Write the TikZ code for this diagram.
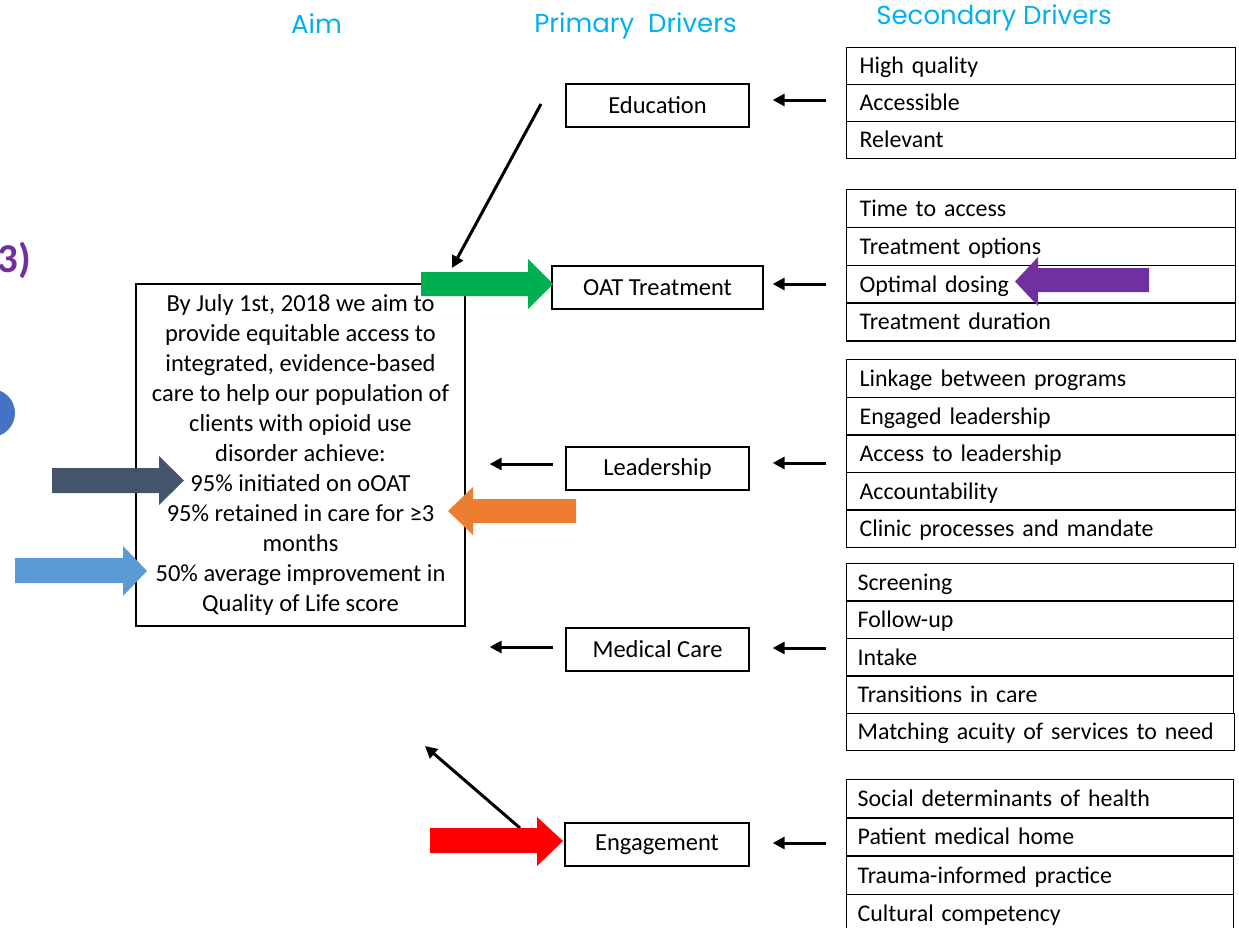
\documentclass[tikz,border=0pt]{standalone}
\usepackage{fontspec}
\setmainfont{Carlito}
\newfontfamily\headfont{Poppins}
\usetikzlibrary{arrows.meta}
\definecolor{hdr}{RGB}{0,176,240}
\definecolor{cgreen}{RGB}{0,176,80}
\definecolor{cslate}{RGB}{68,84,106}
\definecolor{clblue}{RGB}{91,155,213}
\definecolor{corange}{RGB}{237,125,49}
\definecolor{cred}{RGB}{255,0,0}
\definecolor{cpurple}{RGB}{112,48,160}
\definecolor{cblue}{RGB}{68,114,196}
\begin{document}
\begin{tikzpicture}[x=1pt,y=-1pt,
  box/.style={draw, line width=1.3pt, inner sep=0pt, font=\fontsize{24.5}{30}\selectfont},
  prim/.style={box, minimum width=183pt, minimum height=43pt},
  row/.style={box, font=\fontsize{23.9}{30}\selectfont, anchor=north west, minimum height=37.6pt, text width=363pt, inner xsep=13pt, align=left, text height=19pt, text depth=3pt},
  hd/.style={font=\headfont\fontsize{26}{30}\selectfont, text=hdr, inner sep=0pt},
  darr/.style={line width=3pt, -{Triangle[length=12pt,width=12pt]}}
]
\useasboundingbox (0,0) rectangle (1239,927);

% headers
\node[hd] (haim) at (316.5,24) {Aim};
\node[hd] (hprim) at (635.5,26) {Primary\ \ Drivers};
\node[hd] (hsec) at (994,18) {Secondary Drivers};

% partial items at the left edge
\node[font=\bfseries\fontsize{41}{44}\selectfont, text=cpurple, anchor=east, inner sep=0pt] (cut) at (31,260) {3)};
\fill[cblue] (-9,413) circle (24);

% aim box
\node[box, minimum width=329pt, minimum height=342pt, align=center] (aim) at (300.5,455)
 {By July 1st, 2018 we aim to\\provide equitable access to\\integrated, evidence-based\\care to help our population of\\clients with opioid use\\disorder achieve:\\95\% initiated on oOAT\\95\% retained in care for ≥3\\months\\50\% average improvement in\\Quality of Life score};

% primary drivers
\node[prim] (edu) at (657.5,105.5) {Education};
\node[prim, minimum width=211pt] (oat) at (657.5,287.5) {OAT Treatment};
\node[prim] (lead) at (657.5,468.5) {Leadership};
\node[prim] (med) at (657.5,649.5) {Medical Care};
\node[prim, minimum width=184pt] (eng) at (657,844.5) {Engagement};

% secondary drivers
\node[row, minimum height=37pt] (a1) at (846,46.5) {High quality};
\node[row, minimum height=37pt] (a2) at (846,83.5) {Accessible};
\node[row, minimum height=37pt] (a3) at (846,120.5) {Relevant};

\node[row, minimum height=37.8pt] (b1) at (846,189) {Time to access};
\node[row, minimum height=37.8pt] (b2) at (846,226.8) {Treatment options};
\node[row, minimum height=37.8pt] (b3) at (846,264.6) {Optimal dosing};
\node[row, minimum height=37.8pt] (b4) at (846,302.4) {Treatment duration};

\node[row] (c1) at (846,359) {Linkage between programs};
\node[row] (c2) at (846,396.6) {Engaged leadership};
\node[row] (c3) at (846,434.2) {Access to leadership};
\node[row] (c4) at (846,471.8) {Accountability};
\node[row] (c5) at (846,509.4) {Clinic processes and mandate};

\node[row, minimum height=37.4pt, inner xsep=11pt, text width=365pt] (d1) at (846,563) {Screening};
\node[row, minimum height=37.4pt, inner xsep=11pt, text width=365pt] (d2) at (846,600.4) {Follow-up};
\node[row, minimum height=37.4pt, inner xsep=11pt, text width=365pt] (d3) at (846,637.8) {Intake};
\node[row, minimum height=37.4pt, inner xsep=11pt, text width=365pt] (d4) at (846,675.2) {Transitions in care};
\node[row, minimum height=37.4pt, inner xsep=11pt, text width=366pt] (d5) at (846,712.6) {Matching acuity of services to need};

\node[row, minimum height=38.2pt, inner xsep=11pt, text width=365pt] (e1) at (846,779) {Social determinants of health};
\node[row, minimum height=38.2pt, inner xsep=11pt, text width=365pt] (e2) at (846,817.2) {Patient medical home};
\node[row, minimum height=38.2pt, inner xsep=11pt, text width=365pt] (e3) at (846,855.4) {Trauma-informed practice};
\node[row, minimum height=38.2pt, inner xsep=11pt, text width=365pt] (e4) at (846,893.6) {Cultural competency};

% secondary -> primary arrows
\coordinate (sa) at (826,100);
\coordinate (sb) at (826,284);
\coordinate (sc) at (826,463);
\coordinate (sd) at (826,648);
\coordinate (se) at (826,843);
\draw[darr, shorten >=23pt] (sa) -- (sa -| edu.east);
\draw[darr, shorten >=9pt] (sb) -- (sb -| oat.east);
\draw[darr, shorten >=23pt] (sc) -- (sc -| lead.east);
\draw[darr, shorten >=23pt] (sd) -- (sd -| med.east);
\draw[darr, shorten >=23pt] (se) -- (se -| eng.east);

% primary -> aim arrows
\coordinate (pl) at (553,464);
\coordinate (pm) at (553,647);
\draw[darr, shorten >=24pt] (pl) -- (pl -| aim.east);
\draw[darr, shorten >=24pt] (pm) -- (pm -| aim.east);
\coordinate (peo) at (541,104);
\coordinate (pei) at (452,268);
\draw[darr] (peo) -- (pei);
\coordinate (pgo) at (520,828);
\coordinate (pgi) at (425,746);
\draw[darr] (pgo) -- (pgi);

% block arrows
\fill[cgreen] (421,272) -- (528,272) -- (528,259) -- (553,284) -- (528,309) -- (528,296) -- (421,296) -- cycle;
\fill[cslate] (52,468) -- (159,468) -- (159,456) -- (184,480.5) -- (159,505) -- (159,493) -- (52,493) -- cycle;
\fill[clblue] (15,558) -- (123,558) -- (123,546) -- (147,571) -- (123,596) -- (123,583) -- (15,583) -- cycle;
\fill[corange] (576,499) -- (473,499) -- (473,487) -- (448,511) -- (473,535) -- (473,523) -- (576,523) -- cycle;
\fill[cred] (430,828) -- (537,828) -- (537,817) -- (563,841) -- (537,866) -- (537,853) -- (430,853) -- cycle;
\fill[cpurple] (1149,268) -- (1038,268) -- (1038,257) -- (1015,281.5) -- (1038,306) -- (1038,292) -- (1149,292) -- cycle;
\end{tikzpicture}
\end{document}
